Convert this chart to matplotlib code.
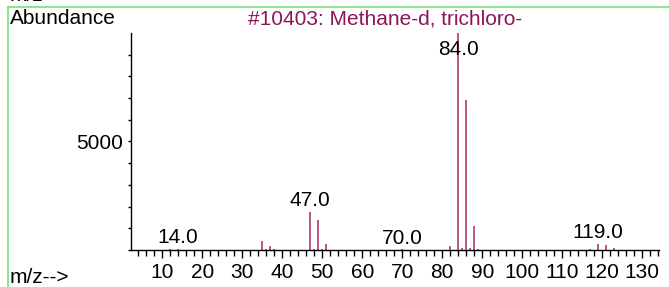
import numpy as np
import matplotlib
matplotlib.use('Agg')
import matplotlib.pyplot as plt
from matplotlib.ticker import MultipleLocator, FixedLocator
from matplotlib.lines import Line2D

plt.rcParams['font.family'] = ['Liberation Sans', 'DejaVu Sans']

# spectrum (m/z, abundance)
mz = [12, 13, 14, 35, 36, 37, 38, 47, 48, 49, 50, 51, 70, 72,
      82, 84, 85, 86, 87, 88, 89, 117, 119, 121, 123]
abundance = [40, 20, 50, 420, 40, 185, 30, 1745, 60, 1375, 30, 280, 30, 20,
             185, 9999, 100, 6900, 80, 1100, 40, 40, 270, 220, 70]
labelled = [14, 47, 70, 84, 119]
title = "#10403: Methane-d, trichloro-"

line_color = '#a8286a'
title_color = '#8c1655'
fs = 15

fig = plt.figure(figsize=(6.69, 2.87), dpi=100)
ax = fig.add_axes([131/669, 1-250/287, (659-131)/669, (250-33)/287])

ax.vlines(mz, 0, abundance, color=line_color, linewidth=1.1)

for m in labelled:
    h = abundance[mz.index(m)]
    y = min(h + 260, 9000)
    ax.text(m, y, f"{m:.1f}", ha='center', va='baseline', fontsize=fs)

ax.set_xlim(2.2, 134.2)
ax.set_ylim(0, 9999)

for s in ['top', 'right']:
    ax.spines[s].set_visible(False)
for s in ['left', 'bottom']:
    ax.spines[s].set_linewidth(1.0)

ax.xaxis.set_major_locator(MultipleLocator(10))
ax.xaxis.set_minor_locator(MultipleLocator(2))
ax.yaxis.set_major_locator(FixedLocator([5000]))
ax.yaxis.set_minor_locator(MultipleLocator(1000))
ax.tick_params(axis='x', which='major', length=6, width=1, labelsize=fs, pad=3)
ax.tick_params(axis='x', which='minor', length=4, width=1)
ax.tick_params(axis='y', which='both', length=2, width=1, labelsize=fs, pad=4)

fig.text(385/669, 1-19/287, title, color=title_color, fontsize=fs,
         ha='center', va='center')
fig.text(10/669, 1-19/287, "Abundance", fontsize=fs, ha='left', va='center')
fig.text(10/669, 1-283/287, "m/z-->", fontsize=fs, ha='left', va='baseline')
fig.text(10/669, 1-1/287, "m/z-->", fontsize=fs, ha='left', va='baseline')

green = '#77e077'
fig.add_artist(Line2D([8/669, 1], [1-6.5/287, 1-6.5/287], color=green, linewidth=1.2))
fig.add_artist(Line2D([8/669, 8/669], [0, 1-6.5/287], color=green, linewidth=1.2))

fig.savefig('out.png', dpi=100)
